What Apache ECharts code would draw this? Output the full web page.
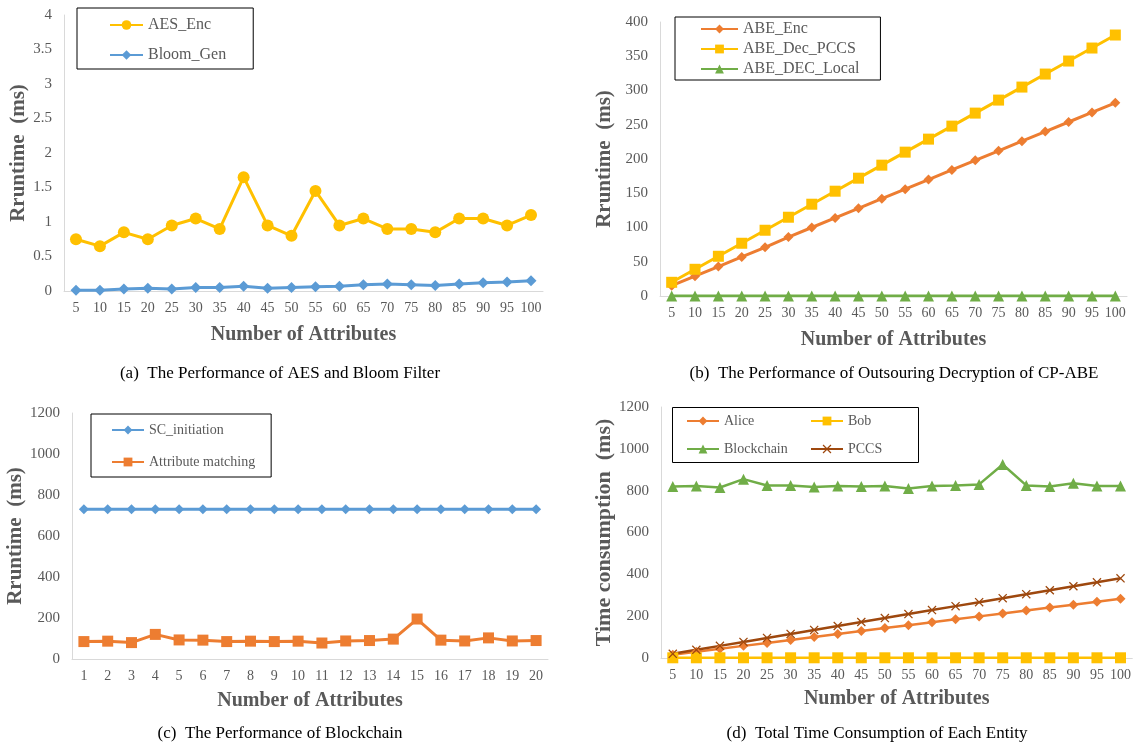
<!DOCTYPE html>
<html>
<head>
<meta charset="utf-8">
<script src="https://cdn.jsdelivr.net/npm/echarts@6/dist/echarts.min.js"></script>
<style>html,body{margin:0;padding:0;background:#fff;}#c{width:1134px;height:748px;}</style>
</head>
<body>
<div id="c"></div>
<script>
// ---- Data ----
const attrs5 = ['5','10','15','20','25','30','35','40','45','50','55','60','65','70','75','80','85','90','95','100'];
const attrs1 = ['1','2','3','4','5','6','7','8','9','10','11','12','13','14','15','16','17','18','19','20'];

// (a)
const aesEnc = [0.75,0.65,0.85,0.75,0.95,1.05,0.9,1.65,0.95,0.8,1.45,0.95,1.05,0.9,0.9,0.85,1.05,1.05,0.95,1.1];
const bloomGen = [0.01,0.01,0.03,0.04,0.03,0.05,0.05,0.07,0.04,0.05,0.06,0.07,0.09,0.1,0.09,0.08,0.1,0.12,0.13,0.15];

// (b)
const abeEnc = [15,29,43,57,71,86,100,114,128,142,156,170,184,198,212,226,240,254,268,282];
const abeDecPCCS = [20,39,58,77,96,115,134,153,172,191,210,229,248,267,286,305,324,343,362,381];
const abeDecLocal = [0,0,0,0,0,0,0,0,0,0,0,0,0,0,0,0,0,0,0,0];

// (c)
const scInit = [730,730,730,730,730,730,730,730,730,730,730,730,730,730,730,730,730,730,730,730];
const attrMatch = [85,87,80,120,93,92,85,87,85,87,78,88,90,97,195,92,88,103,88,90];

// (d)
const alice = [16,30,44,58,72,86,100,115,129,143,157,171,185,199,213,227,241,255,269,283];
const bob = [1,1,1,1,1,1,1,1,1,1,1,1,1,1,1,1,1,1,1,1];
const blockchain = [820,822,815,855,825,825,818,822,820,822,810,822,825,830,925,825,820,835,822,822];
const pccs = [20,39,58,77,96,115,134,153,172,191,210,229,248,267,286,305,324,343,362,381];

// ---- Styles ----
const YEL='#FFC000', BLU='#5B9BD5', ORA='#ED7D31', GRN='#70AD47', BRN='#9E480E';
const SERIF = '"Liberation Serif","DejaVu Serif",serif';
const GRAY = '#595959';
const crossPath = 'path://M0,1L1,0L5,4L9,0L10,1L6,5L10,9L9,10L5,6L1,10L0,9L4,5Z';

function xAx(idx, data, gap){
  return {gridIndex: idx, type:'category', data: data, boundaryGap:true,
    name:'Number of Attributes', nameLocation:'middle', nameGap: gap,
    nameTextStyle:{fontFamily:SERIF, fontWeight:'bold', fontSize:20, color:GRAY},
    axisLine:{lineStyle:{color:'#d9d9d9', width:1}}, axisTick:{show:false},
    axisLabel:{fontFamily:SERIF, fontSize:14, color:GRAY, margin:10, interval:0},
    splitLine:{show:false}};
}
function yAx(idx, max, interval, name, gap, nameSize){
  return {gridIndex: idx, type:'value', min:0, max:max, interval:interval,
    name:name, nameLocation:'middle', nameGap:gap,
    nameTextStyle:{fontFamily:SERIF, fontWeight:'bold', fontSize:nameSize, color:GRAY},
    axisLine:{show:true, lineStyle:{color:'#d9d9d9', width:1}}, axisTick:{show:false},
    axisLabel:{fontFamily:SERIF, fontSize:15, color:GRAY, margin:12, formatter:(v)=>String(v)},
    splitLine:{show:false}};
}
function ser(name, idx, data, color, symbol, size, width){
  return {name:name, type:'line', xAxisIndex:idx, yAxisIndex:idx, data:data,
    symbol:symbol, symbolSize:size, showSymbol:true,
    lineStyle:{color:color, width:width}, itemStyle:{color:color},
    emphasis:{disabled:true}, animation:false};
}
function lt(size){ return {fontFamily:SERIF, fontSize:size, color:GRAY}; }

const chart = echarts.init(document.getElementById('c'), null, {renderer:'canvas'});
chart.setOption({
  backgroundColor:'#fff',
  animation:false,
  grid:[
    {left:64, top:15, width:479, height:276},
    {left:660, top:22, width:467, height:274},
    {left:72, top:413, width:476, height:246},
    {left:661, top:407, width:472, height:251}
  ],
  xAxis:[ xAx(0, attrs5, 34), xAx(1, attrs5, 34), xAx(2, attrs1, 32), xAx(3, attrs5, 31) ],
  yAxis:[
    yAx(0, 4, 0.5, 'Rruntime  (ms)', 35, 21),
    yAx(1, 400, 50, 'Rruntime  (ms)', 45, 21),
    yAx(2, 1200, 200, 'Rruntime  (ms)', 45, 21),
    yAx(3, 1200, 200, 'Time consumption  (ms)', 42, 22)
  ],
  legend:[
    {data:['AES_Enc','Bloom_Gen'], orient:'vertical', left:77, top:8,
     padding:[9,27,6,32], itemGap:14, itemWidth:33, itemHeight:12,
     borderColor:'#000', borderWidth:1, textStyle:lt(16)},
    {data:['ABE_Enc','ABE_Dec_PCCS','ABE_DEC_Local'], orient:'vertical', left:675, top:17,
     padding:[4,21,3,25], itemGap:4, itemWidth:37, itemHeight:11,
     borderColor:'#000', borderWidth:1, textStyle:lt(16)},
    {data:['SC_initiation','Attribute matching'], orient:'vertical', left:91, top:414,
     padding:[9,16,8,20], itemGap:18, itemWidth:32, itemHeight:11,
     borderColor:'#000', borderWidth:1, textStyle:lt(14)},
    {data:['Alice','Blockchain'], orient:'vertical', left:686, top:414,
     padding:0, itemGap:14, itemWidth:32, itemHeight:11, textStyle:lt(14)},
    {data:['Bob','PCCS'], orient:'vertical', left:810, top:414,
     padding:0, itemGap:14, itemWidth:32, itemHeight:11, textStyle:lt(14)}
  ],
  series:[
    ser('AES_Enc', 0, aesEnc, YEL, 'circle', 12, 3),
    ser('Bloom_Gen', 0, bloomGen, BLU, 'diamond', 11, 3),
    ser('ABE_Enc', 1, abeEnc, ORA, 'diamond', 10, 3),
    ser('ABE_Dec_PCCS', 1, abeDecPCCS, YEL, 'rect', 11, 3),
    ser('ABE_DEC_Local', 1, abeDecLocal, GRN, 'triangle', 11, 3),
    ser('SC_initiation', 2, scInit, BLU, 'diamond', 10, 3),
    ser('Attribute matching', 2, attrMatch, ORA, 'rect', 11, 3),
    ser('Alice', 3, alice, ORA, 'diamond', 10, 2.5),
    ser('Bob', 3, bob, YEL, 'rect', 11, 2.5),
    ser('Blockchain', 3, blockchain, GRN, 'triangle', 11, 2.5),
    ser('PCCS', 3, pccs, BRN, crossPath, 9, 2.5)
  ],
  graphic:[
    {type:'rect', shape:{x:672.5, y:407.5, width:246, height:55}, style:{fill:'none', stroke:'#000', lineWidth:1}},
    {type:'text', x:280, y:374, style:{text:'(a)  The Performance of AES and Bloom Filter', font:'17px '+SERIF, fill:'#000', textAlign:'center', textVerticalAlign:'middle'}},
    {type:'text', x:894, y:374, style:{text:'(b)  The Performance of Outsouring Decryption of CP-ABE', font:'17px '+SERIF, fill:'#000', textAlign:'center', textVerticalAlign:'middle'}},
    {type:'text', x:280, y:734, style:{text:'(c)  The Performance of Blockchain', font:'17px '+SERIF, fill:'#000', textAlign:'center', textVerticalAlign:'middle'}},
    {type:'text', x:877, y:734, style:{text:'(d)  Total Time Consumption of Each Entity', font:'17px '+SERIF, fill:'#000', textAlign:'center', textVerticalAlign:'middle'}}
  ]
});
</script>
</body>
</html>
